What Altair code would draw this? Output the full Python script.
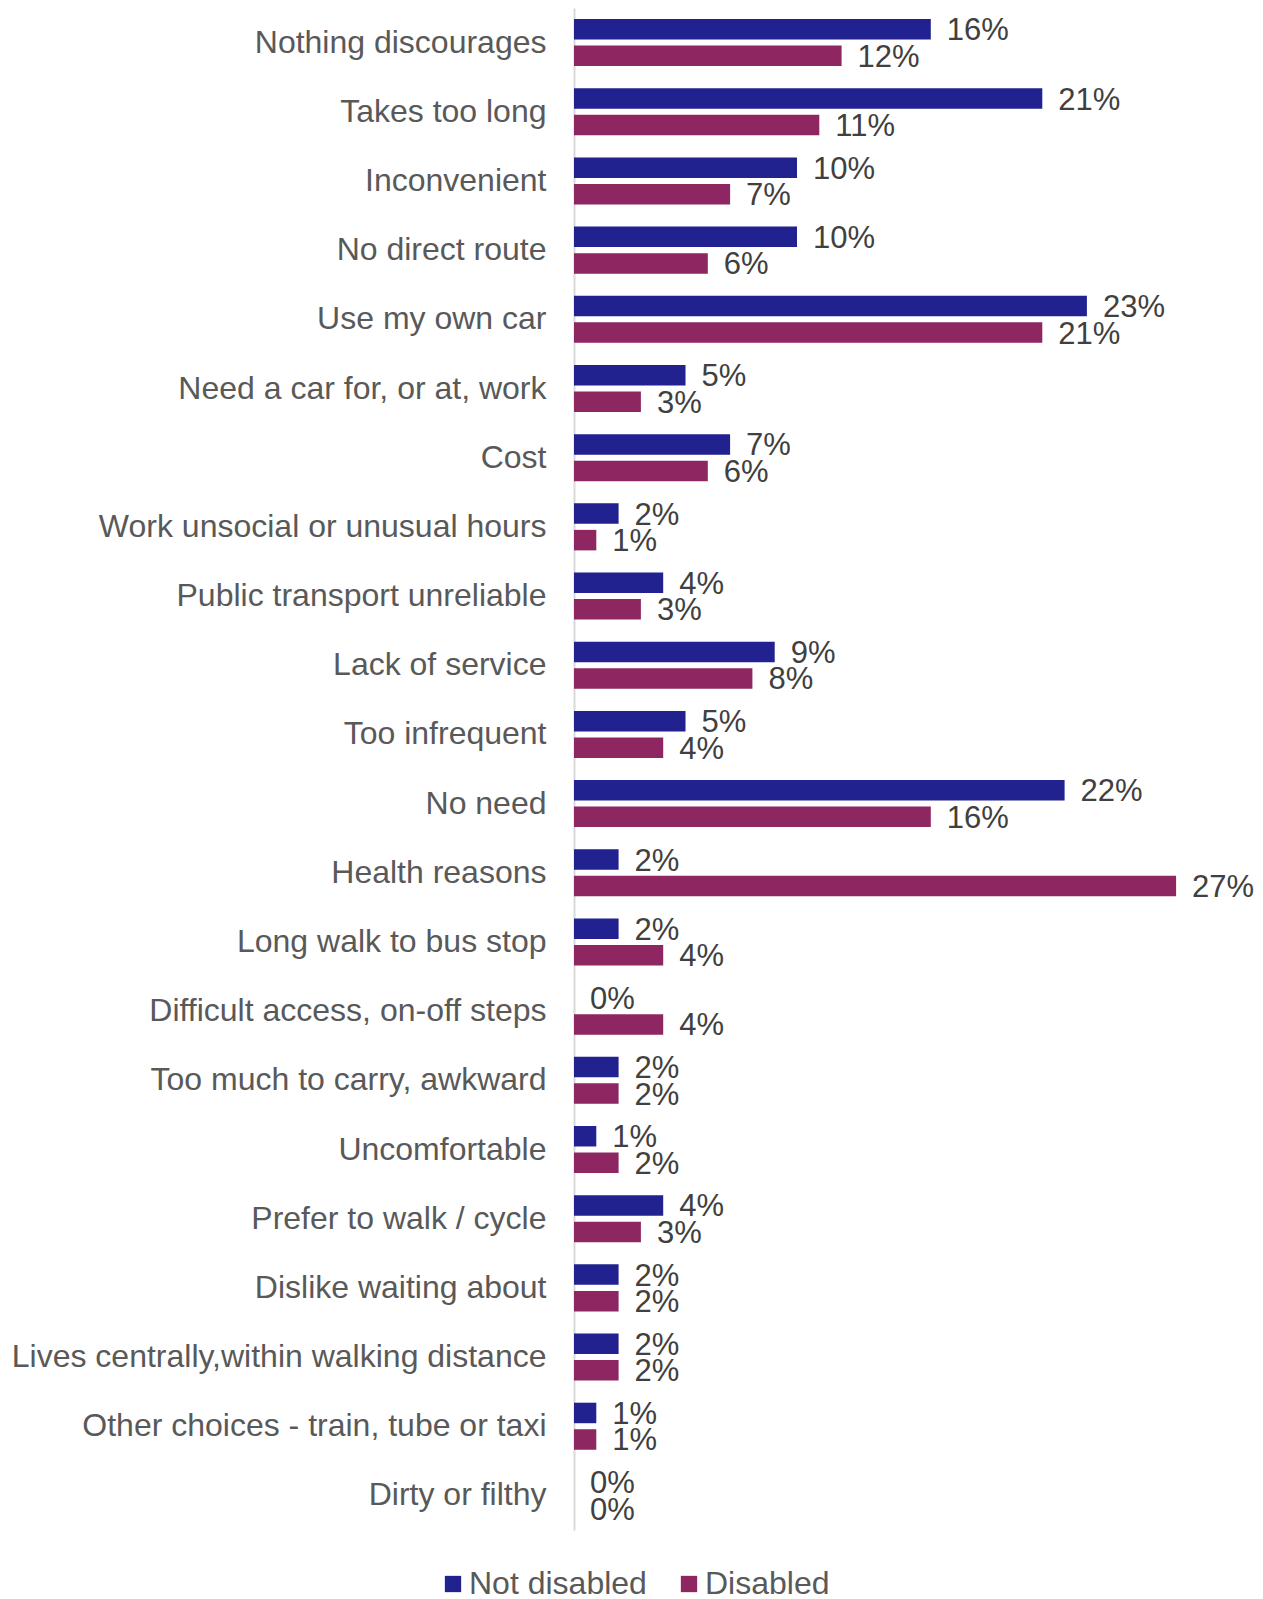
import altair as alt
import pandas as pd

categories = [
    "Nothing discourages", "Takes too long", "Inconvenient", "No direct route",
    "Use my own car", "Need a car for, or at, work", "Cost",
    "Work unsocial or unusual hours", "Public transport unreliable",
    "Lack of service", "Too infrequent", "No need", "Health reasons",
    "Long walk to bus stop", "Difficult access, on-off steps",
    "Too much to carry, awkward", "Uncomfortable", "Prefer to walk / cycle",
    "Dislike waiting about", "Lives centrally,within walking distance",
    "Other choices - train, tube or taxi", "Dirty or filthy",
]
not_disabled = [16, 21, 10, 10, 23, 5, 7, 2, 4, 9, 5, 22, 2, 2, 0, 2, 1, 4, 2, 2, 1, 0]
disabled = [12, 11, 7, 6, 21, 3, 6, 1, 3, 8, 4, 16, 27, 4, 4, 2, 2, 3, 2, 2, 1, 0]
groups = ["Not disabled", "Disabled"]
colors = ["#21218F", "#8E2662"]

rows = []
for c, a, b in zip(categories, not_disabled, disabled):
    rows.append({"reason": c, "group": groups[0], "value": a, "label": f"{a}%"})
    rows.append({"reason": c, "group": groups[1], "value": b, "label": f"{b}%"})
df = pd.DataFrame(rows)

FONT = "Liberation Sans"

y_enc = alt.Y("reason:N", sort=categories, title=None,
              scale=alt.Scale(paddingInner=0.32, paddingOuter=0.16),
              axis=alt.Axis(ticks=False, labelPadding=28, labelFontSize=32,
                            labelFont=FONT, labelColor="#595959",
                            domainColor="#D9D9D9", domainWidth=2,
                            labelLimit=800, grid=False))
yoff = alt.YOffset("group:N", sort=groups,
                   scale=alt.Scale(paddingInner=0.227, paddingOuter=0))
x_enc = alt.X("value:Q", scale=alt.Scale(domain=[0, 30], nice=False), axis=None)

bars = alt.Chart(df).mark_bar().encode(
    y=y_enc, yOffset=yoff, x=x_enc,
    color=alt.Color("group:N", sort=groups,
                    scale=alt.Scale(domain=groups, range=colors),
                    legend=alt.Legend(title=None, orient="none", direction="horizontal",
                                      legendX=-137, legendY=1560,
                                      labelFontSize=32, labelFont=FONT,
                                      labelColor="#595959", symbolType="square",
                                      symbolSize=266, symbolOpacity=1,
                                      symbolStrokeWidth=0,
                                      columnPadding=26, labelOffset=0,
                                      labelLimit=400)),
)

texts = alt.Chart(df).mark_text(align="left", baseline="middle", dx=16, dy=2,
                                fontSize=31, font=FONT, color="#404040").encode(
    y=alt.Y("reason:N", sort=categories), yOffset=yoff, x=x_enc, text="label:N"
)

chart = (bars + texts).properties(
    width=669, height=1522,
    autosize=alt.AutoSizeParams(type="none"),
    padding={"left": 574, "top": 8, "right": 20, "bottom": 69},
).configure_view(stroke=None)

chart.save("out.html", embed_options={"renderer": "svg", "actions": False})
